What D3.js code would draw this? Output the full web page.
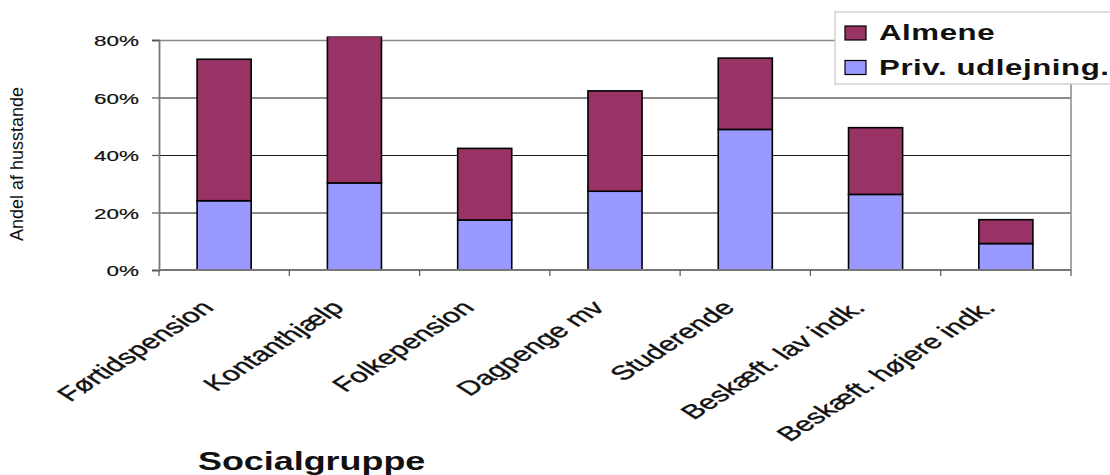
<!DOCTYPE html>
<html>
    <head>
        <meta charset="utf-8">
        <title>Andel af husstande - Socialgruppe</title>
        <script type="text/javascript" src="https://cdn.jsdelivr.net/npm/d3@7"></script>
        <style>
            body { margin: 0; background: #fff; }
            svg { display: block; font-family: "Liberation Sans", Arial, sans-serif; }
        </style>
    </head>

    <body>
        <svg></svg>
    </body>

    <script type="text/javascript">
        const WIDTH = 1110;
        const HEIGHT = 475;
        // text in the picture is drawn wider than it is tall
        const SX = 1.45;

        // data (percent of households)
        var categories = ["Førtidspension", "Kontanthjælp", "Folkepension", "Dagpenge  mv",
            "Studerende", "Beskæft. lav indk.", "Beskæft. højere indk."];
        var privValues = [24.1, 30.3, 17.4, 27.4, 48.9, 26.3, 9.2];
        var almeneValues = [49.2, 51.0, 24.9, 34.9, 24.8, 23.2, 8.3];
        var seriesNames = ["Priv. udlejning.", "Almene"];
        var yTicks = [0, 20, 40, 60, 80];
        var colors = { "Almene": "#993366", "Priv. udlejning.": "#9999ff" };

        var margin = { top: 40, right: 39, bottom: 205, left: 159 };
        var plotW = WIDTH - margin.left - margin.right;
        var plotH = HEIGHT - margin.top - margin.bottom;

        var svg = d3.select("svg")
            .attr("width", WIDTH)
            .attr("height", HEIGHT);

        var g = svg.append("g")
            .attr("transform", "translate(" + margin.left + "," + margin.top + ")");

        var x = d3.scaleBand()
            .domain(categories)
            .range([0, plotW])
            .paddingInner(0.585)
            .paddingOuter(0.2925);

        var y = d3.scaleLinear()
            .domain([0, 80])
            .range([plotH, 0]);

        var rows = categories.map(function(c, i) {
            return { cat: c, "Priv. udlejning.": privValues[i], "Almene": almeneValues[i] };
        });
        var stacked = d3.stack().keys(seriesNames)(rows);

        // gridlines
        g.selectAll(".grid")
            .data(yTicks.filter(function(t) { return t > 0 && t < 80; }))
            .enter()
            .append("line")
            .attr("x1", 0)
            .attr("x2", plotW)
            .attr("y1", function(d) { return y(d) + 0.5; })
            .attr("y2", function(d) { return y(d) + 0.5; })
            .attr("stroke", "#1a1a1a")
            .attr("stroke-width", 1.2);

        // plot border (top and right)
        g.append("path")
            .attr("d", "M0," + (y(80) + 0.5) + "H" + plotW + "V" + plotH)
            .attr("fill", "none")
            .attr("stroke", "#8a8a8a")
            .attr("stroke-width", 1.5);

        // the tallest bar runs off the top of the frame
        svg.append("defs").append("clipPath")
            .attr("id", "clip")
            .append("rect")
            .attr("x", -5)
            .attr("y", y(81.2))
            .attr("width", plotW + 10)
            .attr("height", plotH - y(81.2) + 5);

        var bars = g.append("g").attr("clip-path", "url(#clip)");
        stacked.forEach(function(series) {
            bars.selectAll(".bar-" + series.index)
                .data(series)
                .enter()
                .append("rect")
                .attr("x", function(d) { return x(d.data.cat); })
                .attr("y", function(d) { return y(d[1]); })
                .attr("width", x.bandwidth())
                .attr("height", function(d) { return y(d[0]) - y(d[1]); })
                .attr("fill", colors[series.key])
                .attr("stroke", "#000")
                .attr("stroke-width", 1.6);
        });

        // y axis
        var yAxis = g.append("g")
            .call(d3.axisLeft(y).tickValues(yTicks).tickSize(7).tickFormat(function(d) { return d + "%"; }));
        yAxis.select(".domain").attr("stroke", "#777").attr("stroke-width", 1.8);
        yAxis.selectAll(".tick line").attr("stroke", "#555").attr("stroke-width", 1.2);
        yAxis.selectAll(".tick text")
            .attr("x", null)
            .attr("dy", null)
            .attr("font-size", 15.5)
            .attr("fill", "#111")
            .attr("stroke", "#111")
            .attr("stroke-width", 0.2)
            .attr("text-anchor", "end")
            .attr("transform", "translate(-20,5.5) scale(" + SX + ",1)");

        // x axis with ticks between categories
        var xAxis = g.append("g")
            .attr("transform", "translate(0," + plotH + ")");
        xAxis.append("line")
            .attr("x1", 0).attr("x2", plotW)
            .attr("stroke", "#777").attr("stroke-width", 1.8);
        xAxis.selectAll(".sep")
            .data(d3.range(categories.length + 1))
            .enter()
            .append("line")
            .attr("x1", function(i) { return i * x.step(); })
            .attr("x2", function(i) { return i * x.step(); })
            .attr("y1", 0)
            .attr("y2", 6)
            .attr("stroke", "#555")
            .attr("stroke-width", 1.2);

        xAxis.selectAll(".cat")
            .data(categories)
            .enter()
            .append("text")
            .attr("text-anchor", "end")
            .attr("font-size", 20)
            .attr("fill", "#111")
            .attr("stroke", "#111")
            .attr("stroke-width", 0.35)
            .attr("transform", function(d) {
                return "translate(" + (x(d) + x.bandwidth() / 2 - 9) + ",39) scale(1.55,1) rotate(-45)";
            })
            .text(function(d) { return d; });

        // axis titles
        svg.append("text")
            .attr("text-anchor", "middle")
            .attr("font-size", 18)
            .attr("fill", "#111")
            .attr("transform", "translate(23,164) rotate(-90)")
            .text("Andel af husstande");

        svg.append("text")
            .attr("x", 0)
            .attr("font-size", 26)
            .attr("font-weight", "bold")
            .attr("fill", "#111")
            .attr("transform", "translate(198,470) scale(1.38,1)")
            .text("Socialgruppe");

        // legend
        var legend = svg.append("g").attr("transform", "translate(835,12)");
        legend.append("rect")
            .attr("width", 300)
            .attr("height", 72)
            .attr("fill", "#fff")
            .attr("stroke", "#c8c8c8")
            .attr("stroke-width", 1.2);

        var legendItems = ["Almene", "Priv. udlejning."];
        var li = legend.selectAll(".item")
            .data(legendItems)
            .enter()
            .append("g")
            .attr("transform", function(d, i) { return "translate(10," + (14 + i * 34.5) + ")"; });
        li.append("rect")
            .attr("width", 21)
            .attr("height", 14)
            .attr("fill", function(d) { return colors[d]; })
            .attr("stroke", "#000")
            .attr("stroke-width", 1.2);
        li.append("text")
            .attr("font-size", 22)
            .attr("font-weight", "bold")
            .attr("fill", "#111")
            .attr("letter-spacing", 0.4)
            .attr("transform", "translate(34,14) scale(1.42,1)")
            .text(function(d) { return d; });
    </script>
</html>
